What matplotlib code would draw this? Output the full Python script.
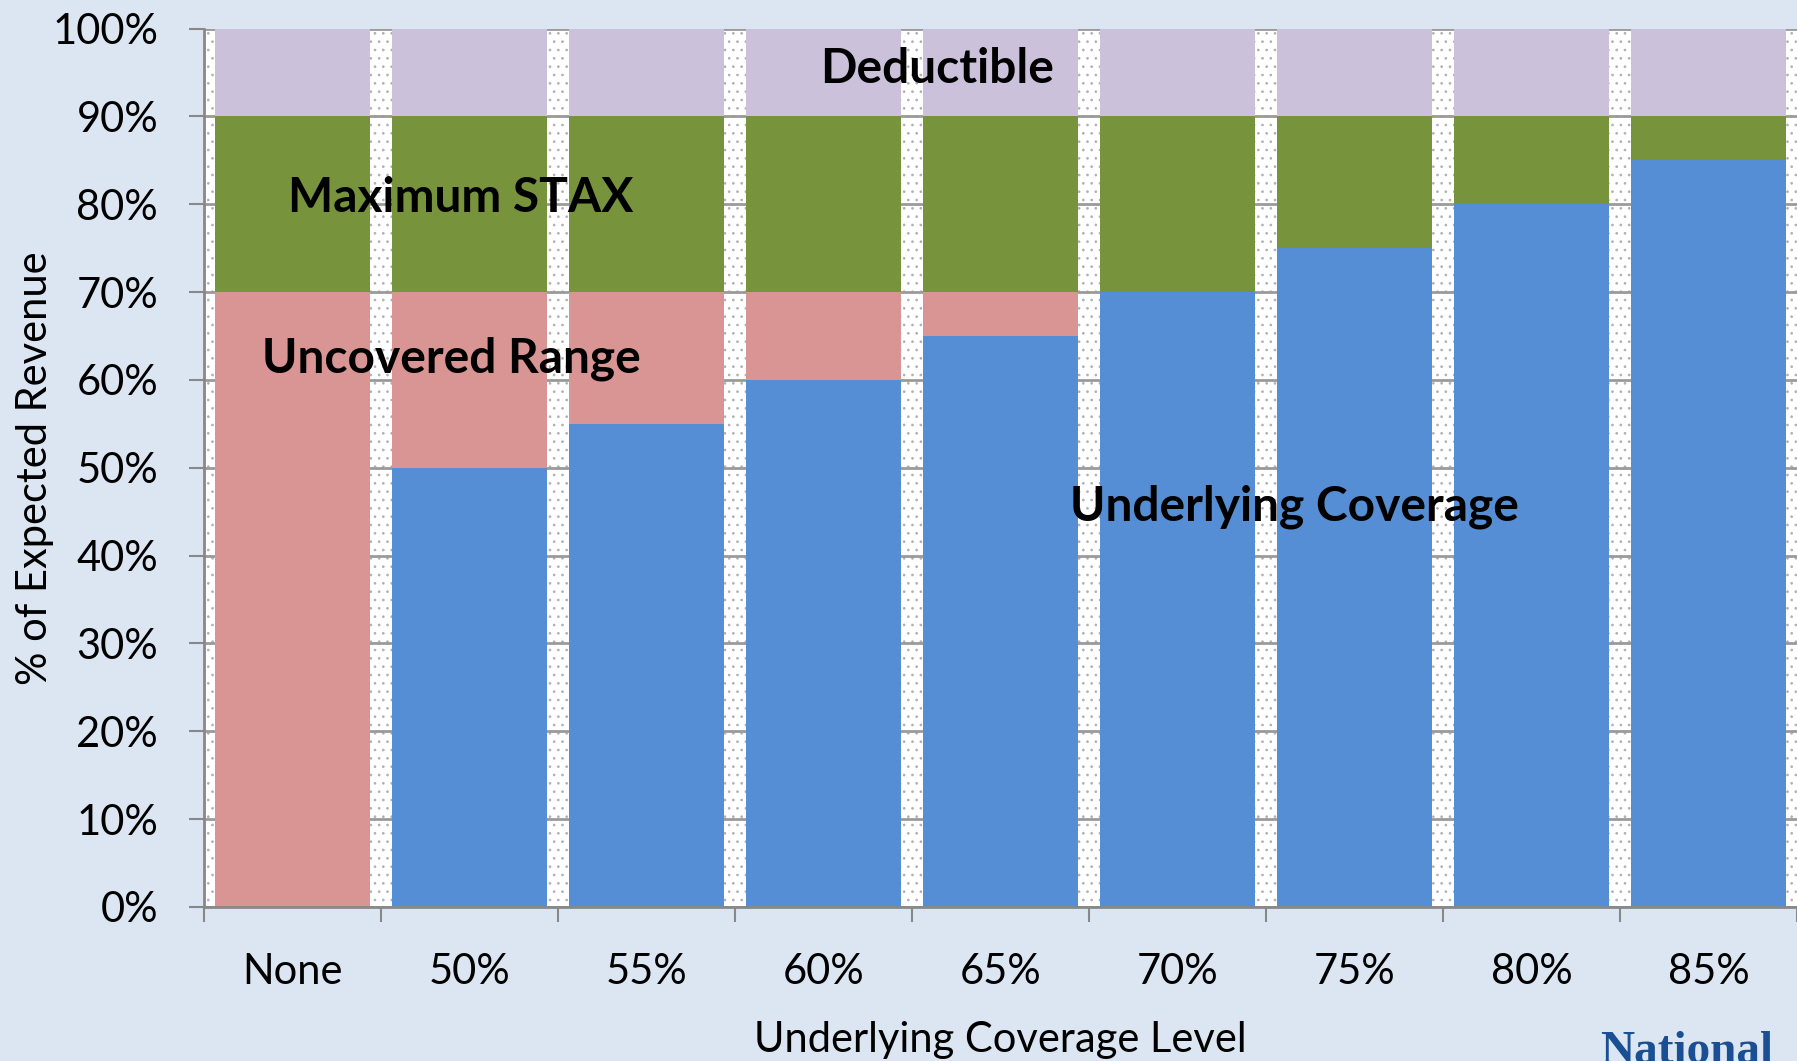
import matplotlib
matplotlib.use("Agg")
import matplotlib.pyplot as plt
from matplotlib.patches import Rectangle
from matplotlib.ticker import FuncFormatter, MultipleLocator, FixedLocator

# ── Data (percent of expected revenue) ─────────────────────────────────────────
categories = ["None", "50%", "55%", "60%", "65%", "70%", "75%", "80%", "85%"]
underlying = [0, 50, 55, 60, 65, 70, 75, 80, 85]
uncovered  = [70, 20, 15, 10, 5, 0, 0, 0, 0]
max_stax   = [20, 20, 20, 20, 20, 20, 15, 10, 5]
deductible = [10, 10, 10, 10, 10, 10, 10, 10, 10]

# ── Style ──────────────────────────────────────────────────────────────────────
plt.rcParams["font.family"] = ["Lato", "DejaVu Sans"]
plt.rcParams["hatch.color"] = "#b0b0b0"
plt.rcParams["hatch.linewidth"] = 0.7

BG      = "#dce6f2"
C_UND   = "#558ed5"
C_UNC   = "#d99594"
C_STAX  = "#77933c"
C_DED   = "#ccc1da"
AXGRAY  = "#888888"

W, H = 1797, 1061
fig = plt.figure(figsize=(W / 100, H / 100), dpi=100, facecolor=BG)
ax = fig.add_axes([204 / W, 1 - 907 / H, 1 - 204 / W, (907 - 28.5) / H])
ax.set_facecolor("white")

# dotted plot-area fill (shows only in the gaps between bars)
ax.add_patch(Rectangle((0, 0), 1, 1, transform=ax.transAxes, facecolor="white",
                       edgecolor="#b0b0b0", linewidth=0, hatch="..", zorder=0.2))

x = list(range(len(categories)))
w = 0.88
b1 = underlying
b2 = [a + b for a, b in zip(b1, uncovered)]
b3 = [a + b for a, b in zip(b2, max_stax)]
ax.bar(x, underlying, w, color=C_UND, zorder=2)
ax.bar(x, uncovered,  w, bottom=b1, color=C_UNC, zorder=2)
ax.bar(x, max_stax,   w, bottom=b2, color=C_STAX, zorder=2)
ax.bar(x, deductible, w, bottom=b3, color=C_DED, zorder=2)

# ── Axes ───────────────────────────────────────────────────────────────────────
ax.set_xlim(-0.5, len(categories) - 0.5)
ax.set_ylim(0, 100)
ax.yaxis.set_major_locator(MultipleLocator(10))
ax.yaxis.set_major_formatter(FuncFormatter(lambda v, _: f"{v:.0f}%"))
ax.yaxis.grid(True, color="#9a9a9a", linewidth=2, zorder=0.5)
ax.set_axisbelow(True)

ax.set_xticks(x)
ax.set_xticklabels(categories)
ax.xaxis.set_minor_locator(FixedLocator([i - 0.5 for i in range(len(categories) + 1)]))
ax.tick_params(axis="x", which="major", length=0, pad=33, labelsize=30)
ax.tick_params(axis="x", which="minor", length=11, width=1.5, color=AXGRAY)
ax.tick_params(axis="y", length=11, width=1.5, color=AXGRAY, pad=22, labelsize=30)

for s in ("top", "right"):
    ax.spines[s].set_visible(False)
for s in ("left", "bottom"):
    ax.spines[s].set_color(AXGRAY)
    ax.spines[s].set_linewidth(2)
    ax.spines[s].set_zorder(3)

ax.set_ylabel("% of Expected Revenue", fontsize=30)
ax.yaxis.set_label_coords(-0.094, 0.5)
ax.set_xlabel("Underlying Coverage Level", fontsize=30, va="baseline")
ax.xaxis.set_label_coords(0.5, (907 - 1052) / (907 - 28.5))

# ── Segment labels ─────────────────────────────────────────────────────────────
lbl = dict(fontsize=34.5, fontweight="bold", ha="center", va="baseline", zorder=5)
ax.text(3.64, 93.8, "Deductible", **lbl)
ax.text(0.95, 79.1, "Maximum STAX", **lbl)
ax.text(0.90, 60.8, "Uncovered Range", **lbl)
ax.text(5.66, 44.05, "Underlying Coverage", **lbl)

# partial logo at the bottom-right corner (cut by the figure edge)
fig.text(1600 / W, 1 - 1063 / H, "National", fontsize=34, fontweight="bold",
         family="Liberation Serif", color="#1b4f93", ha="left", va="baseline")

fig.savefig("out.png", dpi=100, facecolor=BG)
